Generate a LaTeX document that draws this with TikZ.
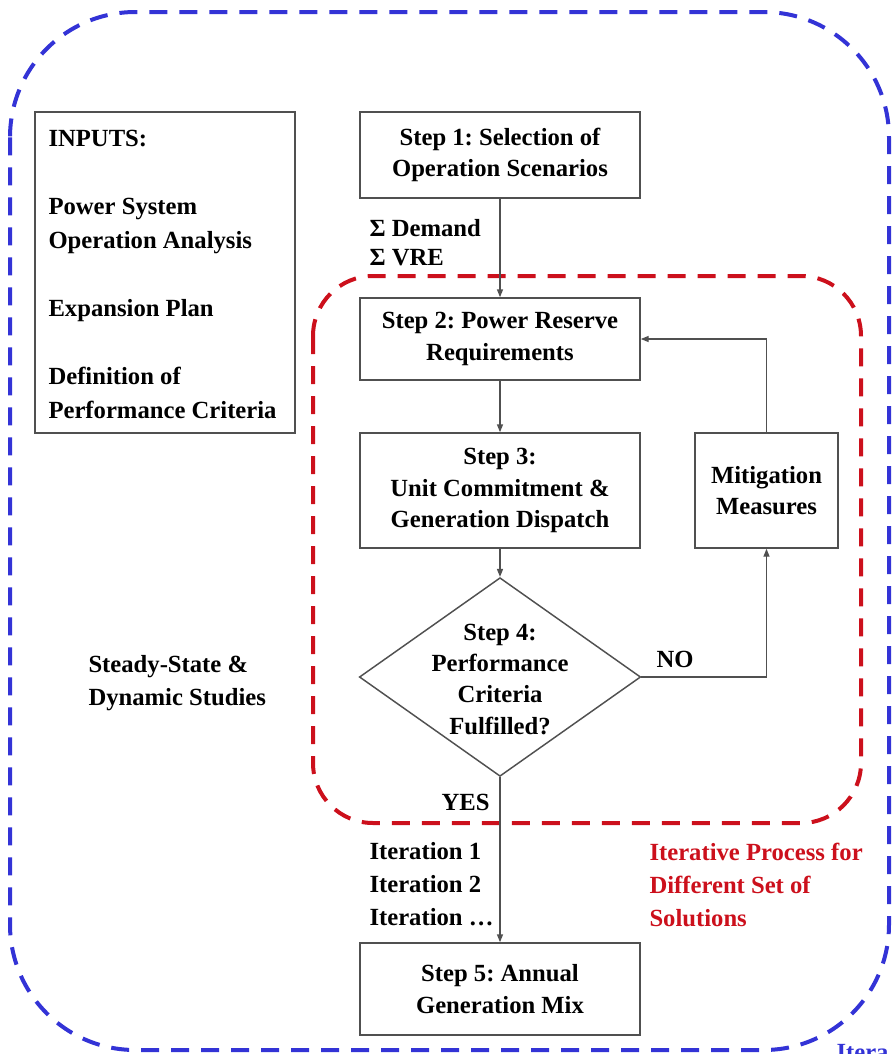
\documentclass[tikz,border=0pt]{standalone}
\usepackage{fontspec}
\setmainfont{Liberation Serif}
\usetikzlibrary{shapes.geometric,arrows.meta}

\definecolor{dashblue}{RGB}{51,51,214}
\definecolor{dashred}{RGB}{204,16,28}
\definecolor{linegray}{RGB}{80,80,80}
\newcommand{\txtfont}{\fontsize{18.5}{23.5}\selectfont\bfseries}
\frenchspacing

\tikzset{every picture/.style={line width=0.75pt}}
\tikzset{
	stepbox/.style={draw=linegray, line width=1.1pt, align=center, inner sep=0pt, font=\txtfont},
	decision/.style={diamond, draw=linegray, line width=1.1pt, inner sep=0pt, minimum width=211pt, minimum height=149pt},
	flow/.style={draw=linegray, line width=1.1pt, -{Triangle[length=6pt,width=4.5pt]}},
	plain/.style={inner sep=0.75pt, font=\txtfont},
	frame/.style={line width=3pt, dash pattern=on 13.5pt off 9pt},
}

\begin{document}
\begin{tikzpicture}[x=0.75pt,y=0.75pt,yscale=-1,xscale=1]
	\useasboundingbox (0,0) rectangle (895,1054);
	
	%Rounded Rect [outer frame]
	\draw [frame, color=dashblue, rounded corners=94pt] (10,12) rectangle (889,1050);
	%Rounded Rect [iteration loop]
	\draw [frame, color=dashred, rounded corners=45pt] (313,276) rectangle (861,823);
	
	%Shape: Rectangle [inputs]
	\node [stepbox, minimum width=195pt, minimum height=240.75pt] (inputs) at (165,272.5) {};
	% Text Node
	\node [plain, anchor=west, align=left, font=\fontsize{18.5}{25.5}\selectfont\bfseries] (inputstext) at (47,274)
		{INPUTS:\\[25.5pt]Power System\\Operation Analysis\\[25.5pt]Expansion Plan\\[25.5pt]Definition of\\Performance Criteria};
	
	%Shape: Rectangle [steps]
	\node [stepbox, minimum width=210pt, minimum height=64.5pt] (s1) at (500,155) {Step 1: Selection of\\Operation Scenarios};
	\node [stepbox, minimum width=210pt, minimum height=61.5pt] (s2) at (500,339) {Step 2: Power Reserve\\Requirements};
	\node [stepbox, minimum width=210pt, minimum height=86.25pt] (s3) at (500,490.5) {Step 3:\\Unit Commitment \&\\Generation Dispatch};
	\node [stepbox, minimum width=107.25pt, minimum height=86.25pt] (mit) at (766.5,490.5) {Mitigation\\Measures};
	\node [decision] (d4) at (500,677) {};
	\node [plain, align=center] (d4text) at (500,679) {Step 4:\\Performance\\Criteria\\Fulfilled?};
	\node [stepbox, minimum width=210pt, minimum height=69pt] (s5) at (500,989) {Step 5: Annual\\Generation Mix};
	
	%Straight Lines
	\draw [flow] (s1.south) -- (s2.north);
	\draw [flow] (s2.south) -- (s3.north);
	\draw [flow] (s3.south) -- (d4.north);
	\draw [flow] (d4.east) -| (mit.south);
	\draw [flow] (mit.north) |- (s2.east);
	\draw [flow] (d4.south) -- (s5.north);
	
	% Text Node
	\node [plain, anchor=west] (sdemand) at (368,228) {Σ Demand};
	% Text Node
	\node [plain, anchor=west] (svre) at (368,258) {Σ VRE};
	% Text Node
	\node [plain, anchor=west] (no) at (655,659) {NO};
	% Text Node
	\node [plain, anchor=east] (yes) at (491,802) {YES};
	% Text Node
	\node [plain, anchor=west, align=left, font=\fontsize{18.5}{24.75}\selectfont\bfseries] (iters) at (368,884)
		{Iteration 1\\Iteration 2\\Iteration …};
	% Text Node
	\node [plain, anchor=west, align=left, text=dashred, font=\fontsize{18.5}{24.75}\selectfont\bfseries] (itnote) at (648,885)
		{Iterative Process for\\Different Set of\\Solutions};
	% Text Node
	\node [plain, anchor=west, align=left, font=\fontsize{18.5}{24.75}\selectfont\bfseries] (studies) at (87,683)
		{Steady-State \&\\Dynamic Studies};
	% Text Node
	\node [plain, anchor=north west, text=dashblue] (cut) at (835,1043) {Itera};
	
\end{tikzpicture}
\end{document}
